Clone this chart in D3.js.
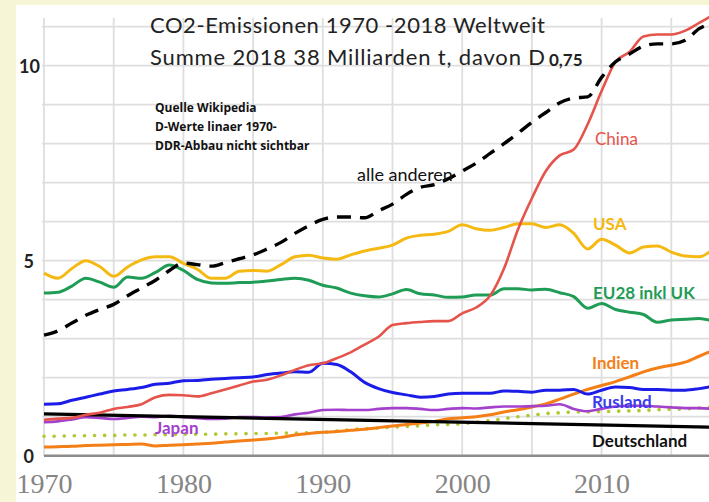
<!DOCTYPE html>
<html><head><meta charset="utf-8">
<script src="https://cdn.jsdelivr.net/npm/d3@7"></script>
<style>
html,body{margin:0;padding:0;background:#f6f5d5;}
svg{display:block;}
</style>
</head><body>
<svg id="c" width="709" height="502"></svg>
<script>
const years = d3.range(1970, 2019);
const alleAnderen = [3.09,3.2,3.4,3.6,3.75,3.88,4.1,4.3,4.5,4.75,4.94,4.9,4.86,4.95,5.05,5.15,5.3,5.47,5.7,5.9,6.06,6.12,6.12,6.1,6.28,6.45,6.7,6.88,6.95,7.1,7.3,7.5,7.75,8.0,8.27,8.55,8.8,9.05,9.17,9.2,9.7,10.1,10.3,10.5,10.56,10.56,10.65,10.95,11.1];
const china = [0.92,0.95,0.97,1.05,1.1,1.2,1.25,1.32,1.5,1.56,1.55,1.52,1.6,1.7,1.8,1.9,1.95,2.06,2.2,2.32,2.37,2.5,2.65,2.85,3.05,3.35,3.4,3.43,3.45,3.45,3.65,3.8,4.1,4.8,5.8,6.6,7.3,7.7,7.85,8.5,9.35,10.1,10.35,10.75,10.8,10.8,10.9,11.1,11.3];
const usa = [4.68,4.55,4.8,5.0,4.85,4.6,4.84,5.02,5.1,5.1,4.93,4.78,4.55,4.55,4.73,4.75,4.73,4.9,5.1,5.14,5.07,5.04,5.15,5.25,5.32,5.4,5.58,5.65,5.68,5.75,5.92,5.82,5.78,5.85,5.95,5.95,5.85,5.92,5.7,5.3,5.55,5.4,5.2,5.35,5.38,5.22,5.12,5.1,5.3];
const eu28 = [4.17,4.19,4.35,4.55,4.45,4.32,4.58,4.55,4.7,4.89,4.75,4.52,4.43,4.42,4.44,4.45,4.48,4.52,4.55,4.5,4.37,4.3,4.17,4.1,4.07,4.15,4.26,4.15,4.12,4.06,4.07,4.12,4.12,4.28,4.28,4.25,4.27,4.18,4.08,3.78,3.9,3.75,3.68,3.62,3.42,3.48,3.5,3.52,3.45];
const rusland = [1.32,1.33,1.42,1.5,1.58,1.66,1.7,1.75,1.83,1.86,1.92,1.93,1.96,1.98,2.0,2.02,2.08,2.12,2.15,2.14,2.37,2.34,2.15,1.88,1.72,1.62,1.56,1.5,1.52,1.58,1.6,1.6,1.6,1.66,1.65,1.63,1.68,1.68,1.7,1.58,1.68,1.76,1.75,1.7,1.7,1.68,1.68,1.72,1.78];
const japan = [0.86,0.88,0.93,0.99,0.97,0.94,0.97,1.0,0.99,1.02,0.99,0.96,0.94,0.95,0.99,0.99,0.98,0.99,1.06,1.1,1.17,1.18,1.17,1.17,1.2,1.22,1.22,1.2,1.17,1.2,1.22,1.21,1.24,1.26,1.26,1.27,1.28,1.32,1.2,1.14,1.2,1.26,1.28,1.28,1.26,1.24,1.22,1.22,1.2];
const indien = [0.22,0.23,0.24,0.26,0.27,0.28,0.29,0.3,0.25,0.27,0.28,0.3,0.32,0.35,0.38,0.4,0.43,0.47,0.53,0.57,0.6,0.62,0.65,0.68,0.72,0.76,0.8,0.84,0.88,0.95,0.97,1.0,1.05,1.12,1.18,1.25,1.33,1.45,1.58,1.7,1.8,1.9,2.02,2.15,2.25,2.32,2.4,2.55,2.7];
const gepunktet = [0.5,0.5,0.51,0.51,0.52,0.52,0.53,0.53,0.54,0.54,0.55,0.55,0.55,0.56,0.56,0.57,0.57,0.58,0.58,0.59,0.6,0.63,0.67,0.69,0.71,0.73,0.75,0.77,0.79,0.8,0.82,0.86,0.9,0.95,1.0,1.04,1.08,1.1,1.12,1.12,1.13,1.14,1.15,1.16,1.18,1.19,1.2,1.22,1.25];
const deutschlandYears = [1970, 2018];
const deutschland = [1.07, 0.73];
const xTickYears = [1970, 1980, 1990, 2000, 2010];
const yTickValues = [0, 5, 10];

const svg = d3.select("#c");
const x = d3.scaleLinear().domain([1970, 2015]).range([44, 671.3]);
const y = d3.scaleLinear().domain([0, 11]).range([455.7, 26.7]);

// white panel
svg.append("rect").attr("x",16).attr("y",5).attr("width",693).attr("height",497).attr("fill","#ffffff");

// grid
const grid = svg.append("g");
grid.selectAll("line.h").data(d3.range(1, 12)).join("line")
  .attr("x1", 42).attr("x2", 709).attr("y1", d=>y(d)).attr("y2", d=>y(d))
  .attr("stroke","#dedede").attr("stroke-width",1.8);
grid.selectAll("line.v").data(d3.range(1970, 2020, 5)).join("line")
  .attr("x1", d=>x(d)).attr("x2", d=>x(d)).attr("y1", 18).attr("y2", y(0))
  .attr("stroke","#dedede").attr("stroke-width",1.8);

// x axis
const xAxis = svg.append("g").attr("transform",`translate(0,${y(0)})`)
  .call(d3.axisBottom(x).tickValues(xTickYears).tickFormat(d3.format("d")).tickSize(0));
xAxis.select(".domain").attr("d", `M${x(1970)},0H709`).attr("stroke","#8c8c8c").attr("stroke-width",2.4);
xAxis.selectAll("text").attr("y",37).attr("dy",0)
  .attr("font-family","'Liberation Serif', serif").attr("font-size",28).attr("fill","#858585");

// y axis labels
const yAxis = svg.append("g")
  .call(d3.axisLeft(y).tickValues(yTickValues).tickSize(0));
yAxis.select(".domain").remove();
yAxis.selectAll("text").attr("x", d => d === 10 ? 40 : 34).attr("dy","0.35em")
  .attr("font-family","Lato").attr("font-weight","bold").attr("font-size",18).attr("fill","#222");

// lines
const line = d3.line().x(d=>x(d[0])).y(d=>y(d[1])).curve(d3.curveMonotoneX);
const pts = vals => years.map((yr,i)=>[yr, vals[i]]);
const series = [
  {v: pts(gepunktet), c:"#b3c732", w:3.6, dash:"0.1 10", cap:"round"},
  {v: pts(indien), c:"#f57f17", w:3},
  {v: pts(japan), c:"#a341cc", w:2.6},
  {v: pts(rusland), c:"#1c1ce8", w:3},
  {v: deutschlandYears.map((yr,i)=>[yr, deutschland[i]]), c:"#000000", w:3.2, lin:true},
  {v: pts(eu28), c:"#1f9c55", w:3},
  {v: pts(usa), c:"#f4b913", w:3},
  {v: pts(china), c:"#e5534b", w:2.6},
  {v: pts(alleAnderen), c:"#000000", w:3.4, dash:"14 9"}
];
series.forEach(s=>{
  svg.append("path").attr("d", s.lin ? d3.line().x(d=>x(d[0])).y(d=>y(d[1]))(s.v) : line(s.v))
    .attr("fill","none").attr("stroke",s.c).attr("stroke-width",s.w)
    .attr("stroke-dasharray", s.dash || null).attr("stroke-linecap", s.cap || "butt")
    .attr("stroke-linejoin","round");
});

// title
svg.append("text").attr("x",150).attr("y",33).attr("font-family","Lato").attr("font-size",22).attr("fill","#222")
  .attr("textLength",395).text("CO2-Emissionen 1970 -2018 Weltweit");
svg.append("text").attr("x",150).attr("y",65).attr("font-family","Lato").attr("font-size",22).attr("fill","#222")
  .attr("textLength",395).text("Summe 2018 38 Milliarden t, davon D");
svg.append("text").attr("x",549).attr("y",66).attr("font-family","Lato").attr("font-weight","bold").attr("font-size",17).attr("fill","#222").text("0,75");

// notes
const notes = ["Quelle Wikipedia","D-Werte linaer 1970-","DDR-Abbau nicht sichtbar"];
svg.selectAll("text.note").data(notes).join("text").attr("class","note")
  .attr("x",155).attr("y",(d,i)=>112+i*19).attr("font-family","'Open Sans'").attr("font-weight","bold")
  .attr("font-size",12).attr("fill","#111").text(d=>d);

// labels
const labels = [
  {t:"alle anderen", x:357, y:181, c:"#111", b:false, s:18},
  {t:"China", x:595, y:145, c:"#e5534b", b:false, s:17},
  {t:"USA", x:593, y:230, c:"#f4b913", b:true, s:17},
  {t:"EU28 inkl UK", x:593, y:299, c:"#1f9c55", b:true, s:17},
  {t:"Indien", x:592, y:369, c:"#f57f17", b:true, s:17},
  {t:"Rusland", x:592, y:408, c:"#3b3bef", b:true, s:17},
  {t:"Deutschland", x:592, y:447, c:"#111", b:true, s:17},
  {t:"Japan", x:155, y:434, c:"#a341cc", b:true, s:17}
];
svg.selectAll("text.lab").data(labels).join("text").attr("class","lab")
  .attr("x",d=>d.x).attr("y",d=>d.y).attr("fill",d=>d.c)
  .attr("font-family","Lato").attr("font-weight",d=>d.b?"bold":"normal").attr("font-size",d=>d.s).text(d=>d.t);
</script>
</body></html>
